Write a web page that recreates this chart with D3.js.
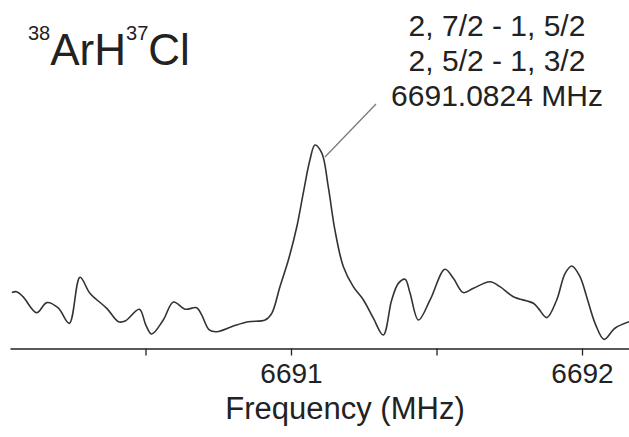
<!DOCTYPE html>
<html>
<head>
<meta charset="utf-8">
<script src="https://cdn.jsdelivr.net/npm/d3@7/dist/d3.min.js"></script>
<style>
  html, body { margin: 0; padding: 0; background: #fff; }
  svg { display: block; font-family: "Liberation Sans", Arial, sans-serif; }
</style>
</head>
<body>
<svg id="chart" width="629" height="437"></svg>
<script>
// Spectrum trace: frequency (MHz) and relative intensity
const freqs = [
  6690.041, 6690.057, 6690.079, 6690.126, 6690.161, 6690.200, 6690.238, 6690.275,
  6690.309, 6690.367, 6690.407, 6690.430, 6690.479, 6690.501, 6690.521, 6690.561,
  6690.596, 6690.636, 6690.676, 6690.693, 6690.719, 6690.745, 6690.802, 6690.853,
  6690.911, 6690.934, 6690.962, 6690.991, 6691.020, 6691.042, 6691.065, 6691.0824,
  6691.106, 6691.128, 6691.151, 6691.180, 6691.214, 6691.249, 6691.283, 6691.317,
  6691.346, 6691.369, 6691.392, 6691.409, 6691.438, 6691.478, 6691.529, 6691.558,
  6691.592, 6691.627, 6691.684, 6691.718, 6691.764, 6691.833, 6691.850, 6691.879,
  6691.913, 6691.942, 6691.965, 6691.993, 6692.016, 6692.045, 6692.076, 6692.113,
  6692.162
];
const intensity = [
  28.1, 28.4, 26.0, 18.2, 23.1, 20.5, 13.0, 35.5,
  27.7, 20.3, 13.8, 14.1, 19.9, 12.2, 7.8, 14.6,
  23.4, 19.9, 20.6, 17.1, 9.8, 8.9, 11.7, 13.8,
  14.6, 17.9, 30.9, 43.9, 60.1, 76.4, 92.7, 100.0,
  96.0, 79.7, 58.5, 40.6, 30.9, 24.4, 15.5, 7.3,
  24.4, 32.5, 34.5, 27.8, 14.6, 24.4, 39.4, 35.0,
  28.0, 30.1, 33.3, 30.9, 26.0, 22.8, 20.3, 15.8,
  24.4, 37.4, 41.0, 35.8, 26.0, 13.0, 5.2, 10.6,
  13.8
];
const tickValues = [6690.5, 6691, 6691.5, 6692];
const tickLabels = ["", "6691", "", "6692"];
const annotationLines = ["2, 7/2 - 1, 5/2", "2, 5/2 - 1, 3/2", "6691.0824 MHz"];
const peakFreq = 6691.0824;
const xTitle = "Frequency (MHz)";

const data = freqs.map((f, i) => ({ f, v: intensity[i] }));

const svg = d3.select("#chart");
const ink = "#222";

const x = d3.scaleLinear().domain([6690.0344, 6692.1615]).range([10, 629]);
const y = d3.scaleLinear().domain([0, 100]).range([350, 145]);
const axisY = 348.5;

// spectrum line
svg.append("path")
  .datum(data)
  .attr("fill", "none")
  .attr("stroke", "#333")
  .attr("stroke-width", 1.6)
  .attr("stroke-linejoin", "round")
  .attr("d", d3.line().x(d => x(d.f)).y(d => y(d.v)).curve(d3.curveCatmullRom.alpha(0.5)));

// frequency axis
const axis = d3.axisBottom(x)
  .tickValues(tickValues)
  .tickFormat((d, i) => tickLabels[i])
  .tickSizeInner(7)
  .tickSizeOuter(0)
  .tickPadding(8);

const gAxis = svg.append("g")
  .attr("transform", `translate(0,${axisY})`)
  .call(axis);
gAxis.select(".domain").attr("stroke", ink).attr("stroke-width", 1.6);
gAxis.selectAll(".tick line").attr("stroke", ink).attr("stroke-width", 1.3);
gAxis.selectAll(".tick text")
  .attr("fill", ink)
  .attr("font-size", 28)
  .attr("font-family", "Liberation Sans, Arial, sans-serif");

svg.append("text")
  .attr("x", 345)
  .attr("y", 419)
  .attr("text-anchor", "middle")
  .attr("fill", ink)
  .attr("font-size", 31)
  .text(xTitle);

// molecule label with isotope superscripts
const title = svg.append("text")
  .attr("x", 28)
  .attr("y", 65)
  .attr("fill", ink);
title.append("tspan").attr("font-size", 20).attr("dy", -25).text("38");
title.append("tspan").attr("font-size", 44).attr("dy", 25).text("ArH");
title.append("tspan").attr("font-size", 20).attr("dy", -25).text("37");
title.append("tspan").attr("font-size", 44).attr("dy", 25).text("Cl");

// transition annotation with leader line to the peak
const ann = svg.append("text")
  .attr("x", 497)
  .attr("y", 36)
  .attr("text-anchor", "middle")
  .attr("fill", ink)
  .attr("font-size", 30);
annotationLines.forEach((t, i) => {
  ann.append("tspan").attr("x", 497).attr("dy", i === 0 ? 0 : 35).text(t);
});

svg.append("line")
  .attr("x1", x(peakFreq) + 10)
  .attr("y1", y(100) + 12)
  .attr("x2", 376)
  .attr("y2", 104)
  .attr("stroke", "#777")
  .attr("stroke-width", 1.2);
</script>
</body>
</html>
